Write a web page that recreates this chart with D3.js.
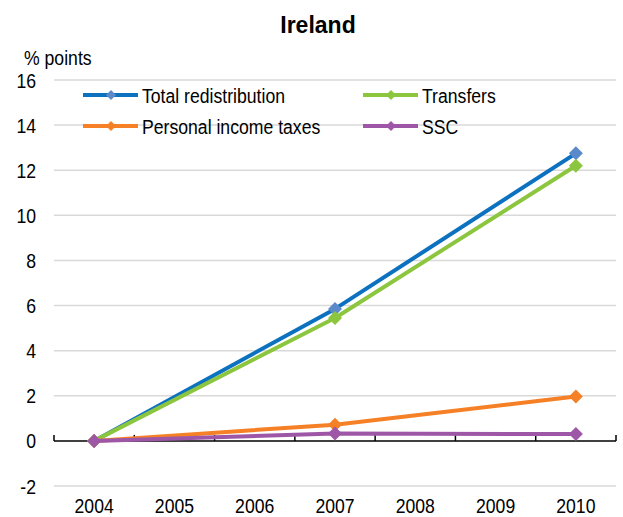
<!DOCTYPE html>
<html><head><meta charset="utf-8">
<script src="https://cdn.jsdelivr.net/npm/d3@7"></script>
<style>
body{margin:0;background:#fff;}
text{font-family:"Liberation Sans Narrow","Arial Narrow","Liberation Sans",Arial,sans-serif;fill:#000;}
</style></head>
<body><svg id="c" width="623" height="517"></svg>
<script>
const years = ["2004","2005","2006","2007","2008","2009","2010"];
const dataYears = ["2004","2007","2010"];
const totalRedistribution = [0, 5.85, 12.75];
const transfers = [0, 5.45, 12.2];
const personalIncomeTaxes = [0, 0.72, 1.97];
const ssc = [0, 0.33, 0.3];
const yTicks = [-2,0,2,4,6,8,10,12,14,16];
const seriesNames = ["Total redistribution","Transfers","Personal income taxes","SSC"];
const lineColors = ["#0C72C0","#8CC63F","#F58025","#9E57A6"];
const markerColors = ["#5B8ACB","#8CC63F","#F58025","#9E57A6"];

const svg = d3.select("#c");
const x = d3.scaleBand().domain(years).range([54,616]);
const y = d3.scaleLinear().domain([-2,16]).range([486,80]);
const SX = 0.84;
const nt = (sel, px, py) => sel.attr("transform", `translate(${px},${py}) scale(${SX},1)`);

// gridlines
svg.append("g").selectAll("line").data(yTicks.filter(d=>d!==0)).join("line")
  .attr("x1",54).attr("x2",616).attr("y1",d=>y(d)).attr("y2",d=>y(d))
  .attr("stroke","#d9d9d9").attr("stroke-width",1.5);

// y labels
svg.append("g").selectAll("text").data(yTicks).join("text")
  .attr("transform",d=>`translate(36,${y(d)}) scale(${SX},1)`)
  .attr("dy","0.36em").attr("text-anchor","end")
  .attr("font-size",21).text(d=>d);

// zero axis
svg.append("line").attr("x1",54).attr("x2",616).attr("y1",y(0)).attr("y2",y(0))
  .attr("stroke","#000").attr("stroke-width",1.5);
const edges = years.map(d=>x(d)).concat([x.range()[1]]);
svg.append("g").selectAll("line").data(edges).join("line")
  .attr("x1",d=>d).attr("x2",d=>d).attr("y1",y(0)).attr("y2",y(0)-6)
  .attr("stroke","#000").attr("stroke-width",1.5);

// x labels
svg.append("g").selectAll("text").data(years).join("text")
  .attr("transform",d=>`translate(${x(d)+x.bandwidth()/2},505) scale(${SX},1)`)
  .attr("dy","0.36em").attr("text-anchor","middle").attr("font-size",21).text(d=>d);

// title and unit
svg.append("text").attr("x",318).attr("y",25).attr("dy","0.36em").attr("text-anchor","middle")
  .style("font-family","'Liberation Sans',Arial,sans-serif").attr("font-weight","bold").attr("font-size",23).text("Ireland");
nt(svg.append("text"),24,57).attr("dy","0.36em").attr("font-size",21).text("% points");

const allSeries = [totalRedistribution, transfers, personalIncomeTaxes, ssc];
const line = d3.line().x((d,i)=>x(dataYears[i])+x.bandwidth()/2).y(d=>y(d));
const diamond = (cx,cy,r)=>`M${cx},${cy-r}L${cx+r},${cy}L${cx},${cy+r}L${cx-r},${cy}Z`;

allSeries.forEach((s,k)=>{
  svg.append("path").datum(s).attr("d",line).attr("fill","none")
    .attr("stroke",lineColors[k]).attr("stroke-width",4).attr("stroke-linejoin","round");
  svg.append("g").selectAll("path").data(s).join("path")
    .attr("d",(d,i)=>diamond(x(dataYears[i])+x.bandwidth()/2, y(d), 7))
    .attr("fill",markerColors[k]);
});

// legend
const legPos = [[83,95],[363,95],[83,126],[363,126]];
seriesNames.forEach((n,k)=>{
  const [lx,ly] = legPos[k];
  svg.append("line").attr("x1",lx).attr("x2",lx+55).attr("y1",ly).attr("y2",ly)
    .attr("stroke",lineColors[k]).attr("stroke-width",4);
  svg.append("path").attr("d",diamond(lx+28,ly,5)).attr("fill",markerColors[k]);
  nt(svg.append("text"),lx+59,ly).attr("dy","0.36em").attr("font-size",21).text(n);
});
</script></body></html>
